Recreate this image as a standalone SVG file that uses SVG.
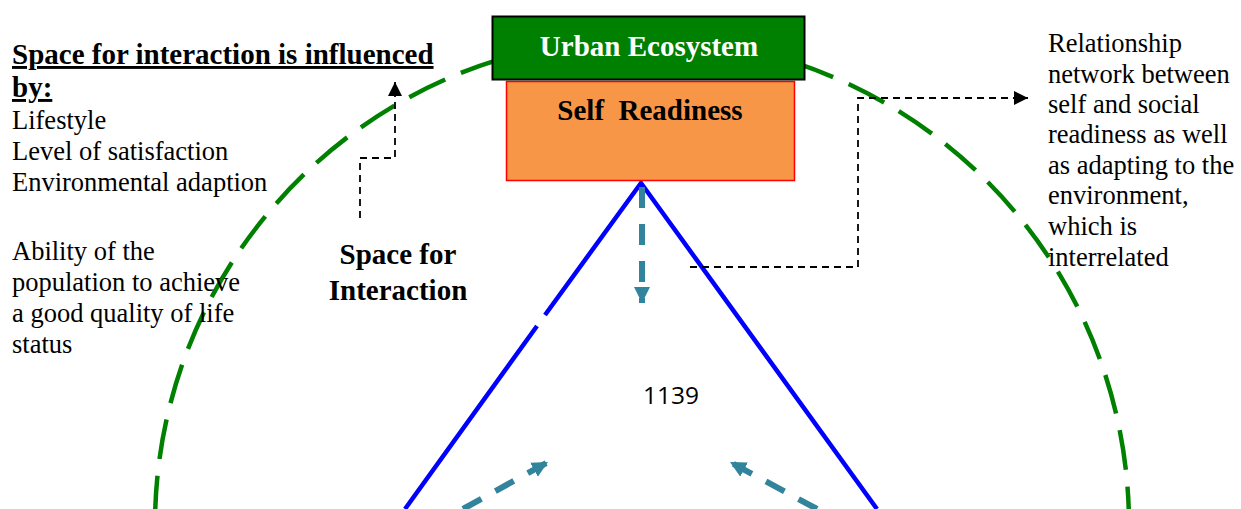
<svg xmlns="http://www.w3.org/2000/svg" width="1241" height="509" viewBox="0 0 1241 509">
<defs>
<style>
.serif{font-family:"Liberation Serif","Times New Roman",serif;fill:#000}
.t22{font-size:26.5px}
.b24{font-size:29px;font-weight:bold}
.blk{fill:none;stroke:#000;stroke-width:1.8;stroke-dasharray:7 5}
.teal{fill:none;stroke:#31849B;stroke-width:6;stroke-dasharray:21 16}
</style>
<marker id="ab" viewBox="0 0 10 10" refX="10" refY="5" markerWidth="15" markerHeight="14" markerUnits="userSpaceOnUse" orient="auto"><path d="M0,0L10,5L0,10z" fill="#000"/></marker>
<marker id="at" viewBox="0 0 10 10" refX="10" refY="5" markerWidth="16" markerHeight="17" markerUnits="userSpaceOnUse" orient="auto"><path d="M0,0L10,5L0,10z" fill="#31849B"/></marker>
</defs>
<rect width="1241" height="509" fill="#fff"/>
<g id="circle">
<circle cx="642" cy="525" r="487" fill="none" stroke="#008000" stroke-width="4.5" stroke-dasharray="40 17"/>
</g>
<g id="triangle">
<path d="M405,509L537,326M545,315L641,183L877,509" fill="none" stroke="#0000FF" stroke-width="4.5"/>
</g>
<g id="connectors">
<path class="teal" d="M642,187V303" marker-end="url(#at)"/>
<path class="teal" d="M463,509L548,462" marker-end="url(#at)"/>
<path class="teal" d="M817,509L730,462" marker-end="url(#at)"/>
<path class="blk" d="M360,218V158H395V82" marker-end="url(#ab)"/>
<path class="blk" d="M690,267H858V98H1028" marker-end="url(#ab)"/>
</g>
<g id="self-readiness">
<rect x="506.5" y="81.5" width="288" height="99" fill="#F79646" stroke="#FF0000" stroke-width="1.5"/>
<text class="serif b24" x="650" y="120" text-anchor="middle" xml:space="preserve">Self  Readiness</text>
</g>
<g id="urban-ecosystem">
<rect x="492.5" y="16.5" width="312" height="63" fill="#008000" stroke="#000" stroke-width="2"/>
<text class="serif" x="649" y="56" text-anchor="middle" font-size="29" font-weight="bold" style="fill:#fff">Urban Ecosystem</text>
</g>
<g id="influence-text">
<text class="serif b24" x="12" y="64" text-decoration="underline">Space for interaction is influenced</text>
<text class="serif b24" x="12" y="97" text-decoration="underline">by:</text>
<text class="serif t22" x="12" y="129">Lifestyle</text>
<text class="serif t22" x="12" y="160">Level of satisfaction</text>
<text class="serif t22" x="12" y="191">Environmental adaption</text>
<text class="serif t22" x="12" y="260">Ability of the</text>
<text class="serif t22" x="12" y="291">population to achieve</text>
<text class="serif t22" x="12" y="322">a good quality of life</text>
<text class="serif t22" x="12" y="353">status</text>
</g>
<g id="space-label">
<text class="serif b24" x="398" y="264" text-anchor="middle">Space for</text>
<text class="serif b24" x="398" y="300" text-anchor="middle">Interaction</text>
</g>
<g id="relationship-text">
<text class="serif t22" x="1048" y="52">Relationship</text>
<text class="serif t22" x="1048" y="83">network between</text>
<text class="serif t22" x="1048" y="113">self and social</text>
<text class="serif t22" x="1048" y="143">readiness as well</text>
<text class="serif t22" x="1048" y="174">as adapting to the</text>
<text class="serif t22" x="1048" y="204">environment,</text>
<text class="serif t22" x="1048" y="235">which is</text>
<text class="serif t22" x="1048" y="266">interrelated</text>
</g>
<g id="number">
<text x="671" y="404" text-anchor="middle" font-family="'Open Sans','Liberation Sans',sans-serif" font-size="24.5" fill="#000">1139</text>
</g>
</svg>
